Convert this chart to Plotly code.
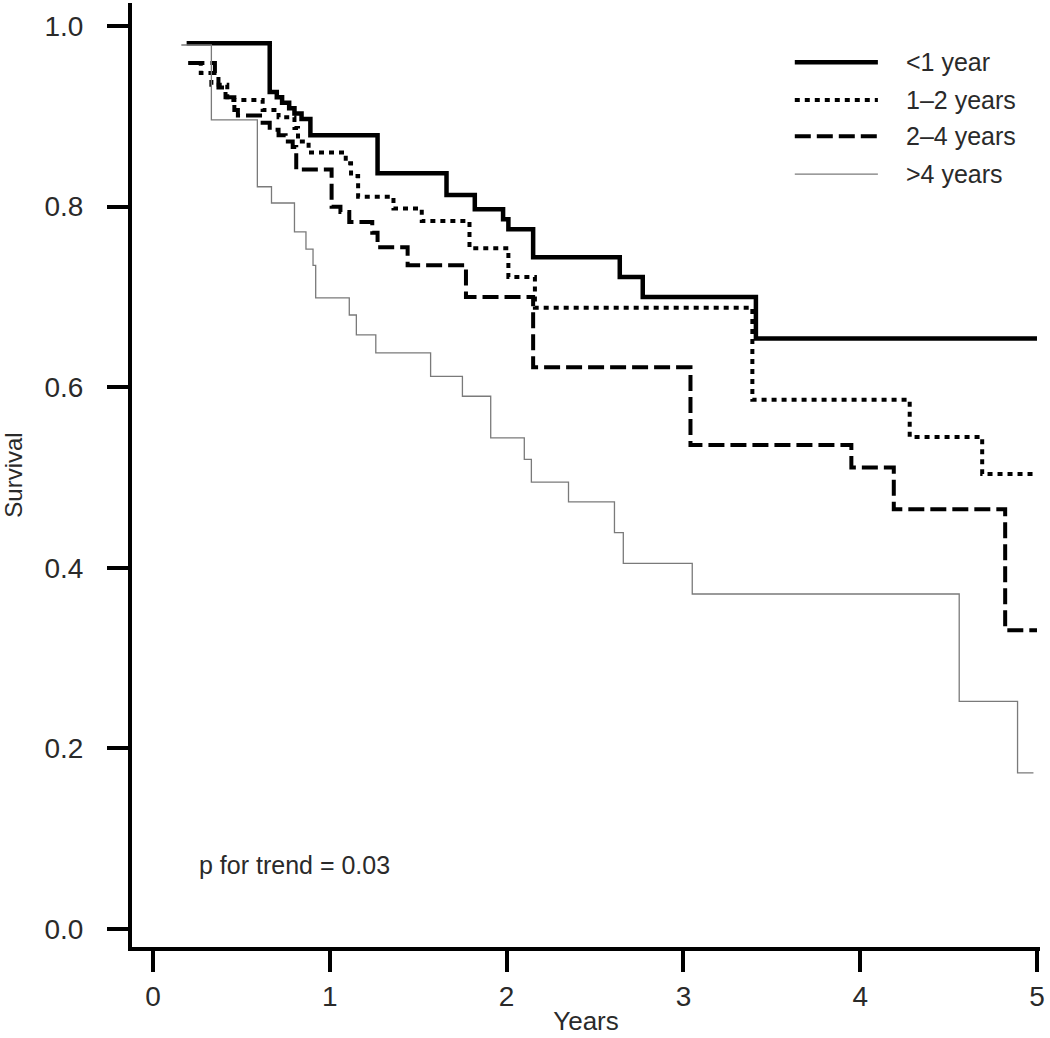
import plotly.graph_objects as go

# ---- data ----
t_lt1 = [0.19, 0.66, 0.70, 0.73, 0.77, 0.80, 0.84, 0.89, 1.27, 1.66, 1.82, 1.98, 2.01, 2.15, 2.64, 2.77, 3.41, 5.00]
s_lt1 = [0.981, 0.927, 0.921, 0.915, 0.909, 0.903, 0.897, 0.879, 0.837, 0.813, 0.797, 0.786, 0.775, 0.744, 0.722, 0.700, 0.654, 0.654]

t_1to2 = [0.20, 0.27, 0.33, 0.42, 0.62, 0.71, 0.80, 0.82, 0.88, 1.09, 1.12, 1.16, 1.36, 1.52, 1.79, 2.01, 2.16, 3.39, 4.28, 4.69, 5.00]
s_1to2 = [0.959, 0.948, 0.935, 0.918, 0.907, 0.899, 0.887, 0.872, 0.860, 0.848, 0.834, 0.811, 0.798, 0.784, 0.754, 0.722, 0.688, 0.586, 0.545, 0.504, 0.504]

t_2to4 = [0.20, 0.35, 0.37, 0.41, 0.46, 0.48, 0.62, 0.66, 0.71, 0.75, 0.79, 0.81, 1.01, 1.06, 1.11, 1.24, 1.27, 1.44, 1.77, 2.15, 3.04, 3.95, 4.19, 4.82, 5.00]
s_2to4 = [0.959, 0.948, 0.932, 0.921, 0.907, 0.901, 0.893, 0.885, 0.879, 0.872, 0.866, 0.841, 0.800, 0.794, 0.783, 0.771, 0.755, 0.735, 0.700, 0.622, 0.536, 0.511, 0.465, 0.331, 0.331]

t_gt4 = [0.16, 0.33, 0.59, 0.67, 0.80, 0.865, 0.905, 0.92, 1.11, 1.15, 1.26, 1.57, 1.75, 1.91, 2.10, 2.14, 2.35, 2.61, 2.66, 3.05, 4.56, 4.89, 4.98]
s_gt4 = [0.979, 0.896, 0.822, 0.804, 0.772, 0.753, 0.735, 0.699, 0.680, 0.658, 0.638, 0.612, 0.590, 0.544, 0.520, 0.495, 0.473, 0.439, 0.405, 0.371, 0.252, 0.173, 0.173]

series_names = ["<1 year", "1\u20132 years", "2\u20134 years", ">4 years"]
x_ticks = [0, 1, 2, 3, 4, 5]
y_ticks = [0.0, 0.2, 0.4, 0.6, 0.8, 1.0]
y_tick_text = ["0.0", "0.2", "0.4", "0.6", "0.8", "1.0"]
annotation_text = "p for trend = 0.03"

FONT = "Liberation Sans, Arial, sans-serif"
TXT = "#2a2a2a"

styles = [
    dict(color="black", width=4.5, dash="solid"),
    dict(color="black", width=4, dash="5px,5px"),
    dict(color="black", width=4, dash="16px,6px"),
    dict(color="#7a7a7a", width=1.3, dash="solid"),
]

fig = go.Figure()
for (tx, sy), name, st in zip([(t_lt1, s_lt1), (t_1to2, s_1to2), (t_2to4, s_2to4), (t_gt4, s_gt4)], series_names, styles):
    fig.add_trace(go.Scatter(x=tx, y=sy, mode="lines", name=name, line_shape="hv",
                             line=st, showlegend=False, hoverinfo="x+y+name"))

# manual legend (line samples + labels)
leg_y = [0.960, 0.918, 0.878, 0.836]
for i, (name, st) in enumerate(zip(series_names, styles)):
    fig.add_shape(type="line", xref="x", yref="y", x0=3.63, x1=4.10, y0=leg_y[i], y1=leg_y[i],
                  line=dict(color=st["color"], width=st["width"], dash=st["dash"]))
    fig.add_annotation(x=4.25, y=leg_y[i], xref="x", yref="y", text=name, showarrow=False,
                       xanchor="left", yanchor="middle",
                       font=dict(family=FONT, size=25, color=TXT))

fig.add_annotation(x=0.25, y=0.071, xref="x", yref="y", text=annotation_text, showarrow=False,
                   xanchor="left", yanchor="middle", font=dict(family=FONT, size=25, color=TXT))

fig.update_layout(
    width=1050, height=1038,
    margin=dict(l=132, r=10, t=3, b=91),
    paper_bgcolor="white", plot_bgcolor="white",
    font=dict(family=FONT, size=26, color=TXT),
    xaxis=dict(range=[-0.119, 5.017], tickvals=x_ticks, showgrid=False, zeroline=False,
               showline=True, linecolor="black", linewidth=4,
               ticks="outside", ticklen=21, tickwidth=4, tickcolor="black",
               tickfont=dict(family=FONT, size=28, color=TXT),
               title=dict(text="Years", font=dict(family=FONT, size=26, color=TXT), standoff=2)),
    yaxis=dict(range=[-0.0199, 1.0255], tickvals=y_ticks, ticktext=y_tick_text, showgrid=False, zeroline=False,
               showline=True, linecolor="black", linewidth=4,
               ticks="outside", ticklen=21, tickwidth=4, tickcolor="black",
               ticklabelstandoff=18,
               tickfont=dict(family=FONT, size=28, color=TXT),
               title=dict(text="Survival", font=dict(family=FONT, size=24, color=TXT), standoff=24)),
)

fig.write_html("out.html", config={"displayModeBar": False},
               post_script="document.body.style.margin='0';document.body.style.overflow='hidden';")
